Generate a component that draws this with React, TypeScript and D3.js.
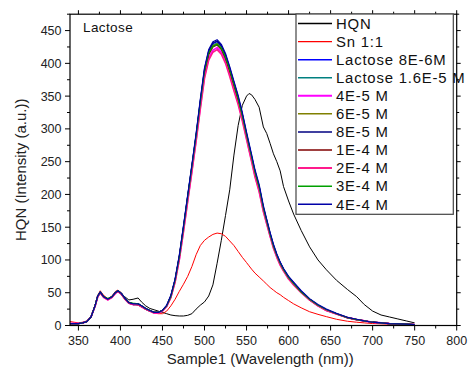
import React from 'react';
import * as d3 from 'd3';

// wavelength grid (nm) shared by every spectrum
const wavelengths = [340, 345, 350, 355, 360, 365, 370, 373, 376, 380, 385, 390, 394, 397, 401, 405, 410, 415, 421, 425, 430, 435, 440, 445, 450, 455, 460, 465, 470, 475, 480, 485, 490, 495, 500, 505, 510, 515, 520, 525, 530, 535, 540, 545, 550, 553, 556, 560, 565, 570, 574, 578, 582, 586, 590, 594, 600, 606, 615, 625, 635, 645, 657, 670, 681, 690, 700, 710, 720, 730, 740, 750];

const hqn = [3, 3, 3, 4, 6, 13, 30, 43, 49, 44, 40, 43, 49, 52, 49, 44, 39, 40, 42, 36, 30, 26, 24, 22, 20, 18, 16, 15, 14.5, 14.5, 15.5, 18, 25, 31, 36, 45, 62, 95, 130, 168, 207, 260, 305, 336, 350, 354, 352, 345, 333, 303, 293, 278, 262, 250, 236, 212, 190, 170, 145, 120, 100, 85, 69, 55, 44, 32, 22, 16, 13, 10, 7, 4];
const sn11 = [6, 5, 4, 5, 7, 14, 32, 46, 53, 46, 41, 45, 52, 54, 50, 42, 36, 33, 31, 28, 25, 22, 19, 18, 18, 22, 30, 40, 52, 63, 75, 90, 108, 122, 130, 135, 139, 141, 140, 136, 129, 122, 113, 104, 96, 91, 86, 80, 74, 68, 63, 58, 54, 50, 47, 43, 38, 33, 27, 21, 17, 13.5, 9.5, 6.5, 5, 4, 3, 2.5, 2, 1.5, 1.2, 1];
const lac8e6 = [3, 3, 3, 4, 6, 13, 31, 45, 51, 44, 40, 44, 50, 53, 49, 42, 35, 33, 33, 30, 26, 23, 20, 20, 23, 30, 45, 70, 105, 150, 197, 243, 290, 342, 390, 418, 430, 433, 426, 412, 392, 370, 348, 322, 292, 275, 258, 235, 212, 180, 160, 140, 122, 108, 96, 86, 74, 65, 52, 40, 31, 24, 18, 12, 9, 7, 5, 4, 3, 2.5, 2, 1.5];
const lac16e5 = [3, 3, 3, 4, 6, 13, 31, 45, 50, 44, 40, 43, 50, 52, 48, 41, 34, 32, 32, 29, 25, 22, 20, 20, 23, 30, 44, 69, 104, 149, 196, 242, 289, 340, 388, 416, 428, 431, 424, 410, 390, 368, 346, 320, 291, 274, 257, 234, 211, 179, 159, 139, 121, 107, 95, 85, 73, 64, 51, 40, 31, 24, 18, 12, 9, 7, 5, 4, 3, 2.5, 2, 1.5];
const m4e5 = [3, 3, 3, 4, 6, 13, 30, 44, 50, 43, 39, 43, 49, 52, 48, 41, 34, 32, 32, 29, 25, 22, 19, 19, 22, 29, 43, 67, 101, 145, 191, 236, 283, 333, 380, 408, 420, 424, 417, 403, 383, 361, 340, 315, 286, 269, 252, 229, 206, 175, 156, 137, 119, 105, 93, 84, 72, 63, 51, 39, 30, 23, 17.5, 12, 9, 7, 5, 4, 3, 2.5, 2, 1.5];
const m6e5 = [3, 3, 3, 4, 6, 13, 31, 45, 51, 44, 40, 44, 50, 53, 49, 42, 35, 33, 33, 30, 26, 23, 20, 20, 23, 30, 45, 69, 104, 148, 195, 241, 288, 339, 387, 415, 427, 430, 423, 409, 389, 367, 345, 319, 290, 273, 256, 233, 210, 179, 159, 139, 121, 107, 95, 85, 73, 64, 51, 40, 31, 24, 18, 12, 9, 7, 5, 4, 3, 2.5, 2, 1.5];
const m8e5 = [3, 3, 3, 4, 6, 13, 31, 45, 51, 44, 40, 44, 50, 53, 49, 42, 35, 33, 33, 30, 26, 23, 20, 20, 23, 30, 45, 70, 106, 151, 198, 244, 291, 343, 391, 419, 431, 434, 427, 413, 393, 371, 349, 323, 293, 276, 259, 236, 213, 181, 161, 141, 123, 108, 96, 86, 74, 65, 52, 40, 31, 24, 18, 12, 9, 7, 5, 4, 3, 2.5, 2, 1.5];
const m1e4 = [3, 3, 3, 4, 6, 13, 31, 45, 50, 44, 40, 43, 50, 52, 48, 41, 34, 32, 32, 29, 25, 22, 20, 20, 23, 30, 44, 69, 104, 148, 195, 240, 287, 338, 385, 413, 425, 428, 421, 407, 387, 366, 344, 318, 289, 272, 255, 232, 209, 178, 158, 138, 120, 106, 94, 84, 72, 63, 51, 39, 30, 23, 17.5, 12, 9, 7, 5, 4, 3, 2.5, 2, 1.5];
const m2e4 = [3, 3, 3, 4, 6, 13, 30, 44, 50, 43, 39, 43, 49, 52, 48, 41, 34, 32, 32, 29, 25, 22, 19, 19, 22, 29, 43, 66, 100, 143, 189, 234, 281, 330, 377, 405, 417, 421, 414, 400, 380, 358, 337, 312, 284, 267, 250, 227, 204, 174, 155, 136, 118, 104, 92, 83, 71, 62, 50, 39, 30, 23, 17.5, 12, 9, 7, 5, 4, 3, 2.5, 2, 1.5];
const m3e4 = [3, 3, 3, 4, 6, 13, 31, 45, 51, 44, 41, 44, 50, 53, 49, 42, 35, 34, 33, 30, 26, 23, 20, 20, 23, 30, 44, 69, 104, 149, 196, 242, 289, 340, 388, 416, 426, 429, 423, 409, 390, 368, 346, 320, 291, 274, 257, 234, 211, 179, 159, 139, 121, 107, 95, 85, 73, 64, 51, 40, 31, 24, 18, 12, 9, 7, 5, 4, 3, 2.5, 2, 1.5];
const m4e4 = [3, 3, 3, 4, 6, 13, 31, 45, 51, 44, 40, 44, 50, 53, 49, 42, 35, 33, 33, 30, 26, 23, 20, 20, 23, 31, 46, 71, 107, 152, 199, 245, 293, 345, 393, 421, 433, 436, 429, 415, 395, 373, 351, 325, 295, 278, 261, 238, 215, 183, 162, 142, 124, 109, 97, 87, 75, 66, 53, 41, 32, 25, 18.5, 12.5, 9.5, 7, 5, 4, 3, 2.5, 2, 1.5];

const seriesNames = ['HQN', 'Sn 1:1', 'Lactose 8E-6M', 'Lactose 1.6E-5 M', '4E-5 M', '6E-5 M', '8E-5 M', '1E-4 M', '2E-4 M', '3E-4 M', '4E-4 M'];
const seriesValues = [hqn, sn11, lac8e6, lac16e5, m4e5, m6e5, m8e5, m1e4, m2e4, m3e4, m4e4];
const seriesColors = ['#000000', '#FF0000', '#0000FF', '#008080', '#FF00FF', '#808000', '#000080', '#800000', '#FF1A8C', '#00A000', '#0000A8'];
const seriesWidths = [1, 1, 1.2, 1.2, 1.6, 1.2, 1.2, 1.2, 1.6, 1.2, 1.2];

const xTicks = [350, 400, 450, 500, 550, 600, 650, 700, 750, 800];
const yTicks = [0, 50, 100, 150, 200, 250, 300, 350, 400, 450];

const FONT = '"Liberation Sans", Arial, sans-serif';

export default function App() {
  const width = 469;
  const height = 371;
  const left = 70;
  const right = 456.7;
  const top = 14.2;
  const bottom = 325.5;

  const x = d3.scaleLinear().domain([340, 800]).range([left, right]);
  const y = d3.scaleLinear().domain([0, 475]).range([bottom, top]);

  const line = d3
    .line<number>()
    .x((_, i) => x(wavelengths[i]))
    .y((d) => y(d));

  const xMinor = d3.range(375, 800, 50);
  const yMinor = d3.range(25, 476, 50);

  // legend placement
  const legX = 296;
  const legY = 14;
  const legW = 157.3;
  const legH = 200.3;
  const legStep = 18.07;

  return (
    <svg
      width={width}
      height={height}
      style={{ position: 'absolute', left: 0, top: 0, background: '#fff' }}
      fontFamily={FONT}
    >
      <defs>
        <clipPath id="plot-clip">
          <rect x={left} y={top} width={right - left} height={bottom - top} />
        </clipPath>
      </defs>

      {/* spectra */}
      <g clipPath="url(#plot-clip)">
        {seriesValues.map((vals, i) => (
          <path
            key={seriesNames[i]}
            d={line(vals) || ''}
            fill="none"
            stroke={seriesColors[i]}
            strokeWidth={seriesWidths[i]}
            strokeLinejoin="round"
          />
        ))}
      </g>

      {/* frame */}
      <rect x={left} y={top} width={right - left} height={bottom - top} fill="none" stroke="#000" strokeWidth={1.2} />

      {/* x ticks, bottom and top */}
      {xTicks.map((t) => (
        <g key={'x' + t}>
          <line x1={x(t)} x2={x(t)} y1={bottom} y2={bottom + 5} stroke="#000" />
          <line x1={x(t)} x2={x(t)} y1={top} y2={top - 4} stroke="#000" />
          <text x={x(t)} y={345} textAnchor="middle" fontSize={12.5} fill="#222">
            {t}
          </text>
        </g>
      ))}
      {xMinor.map((t) => (
        <g key={'xm' + t}>
          <line x1={x(t)} x2={x(t)} y1={bottom} y2={bottom + 3} stroke="#000" />
          <line x1={x(t)} x2={x(t)} y1={top} y2={top - 2.5} stroke="#000" />
        </g>
      ))}

      {/* y ticks, left and right */}
      {yTicks.map((t) => (
        <g key={'y' + t}>
          <line x1={left} x2={left - 5} y1={y(t)} y2={y(t)} stroke="#000" />
          <line x1={right} x2={right + 4} y1={y(t)} y2={y(t)} stroke="#000" />
          <text x={61.5} y={y(t)} dy="0.36em" textAnchor="end" fontSize={12.5} fill="#222">
            {t}
          </text>
        </g>
      ))}
      {yMinor.map((t) => (
        <g key={'ym' + t}>
          <line x1={left} x2={left - 3} y1={y(t)} y2={y(t)} stroke="#000" />
          <line x1={right} x2={right + 2.5} y1={y(t)} y2={y(t)} stroke="#000" />
        </g>
      ))}

      {/* axis titles */}
      <text x={(left + right) / 2 - 3} y={364} textAnchor="middle" fontSize={15} fill="#222">
        Sample1 (Wavelength (nm))
      </text>
      <text
        transform={`translate(26, ${(top + bottom) / 2}) rotate(-90)`}
        textAnchor="middle"
        fontSize={15}
        fill="#222"
      >
        HQN (Intensity (a.u.))
      </text>

      <text x={83} y={31.5} fontSize={13.5} letterSpacing={0.4} fill="#111">
        Lactose
      </text>

      {/* legend */}
      <rect x={legX} y={legY} width={legW} height={legH} fill="#fff" stroke="#444" strokeWidth={1.2} />
      {seriesNames.map((name, i) => {
        const cy = 23.5 + i * legStep;
        return (
          <g key={'leg' + name}>
            <line x1={298} x2={332} y1={cy} y2={cy} stroke={seriesColors[i]} strokeWidth={seriesWidths[i] + 0.3} />
            <text x={336} y={cy + 5.3} fontSize={14.9} letterSpacing={0.8} fill="#111">
              {name}
            </text>
          </g>
        );
      })}
    </svg>
  );
}
